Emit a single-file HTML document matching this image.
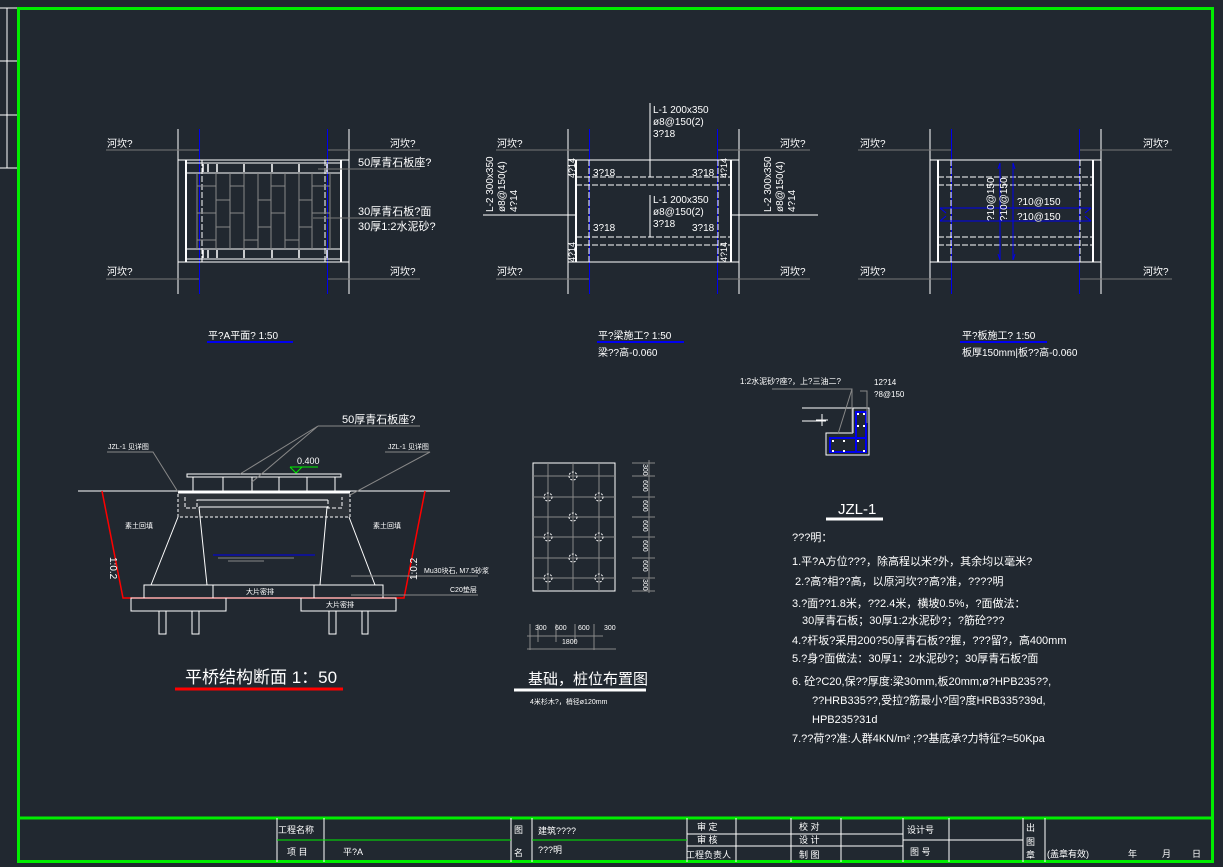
<!DOCTYPE html>
<html><head><meta charset="utf-8"><style>
html,body{margin:0;padding:0;background:#212830;}
svg{display:block}
text{font-family:"Liberation Sans","Noto Sans CJK SC",sans-serif;fill:#fff}
</style></head><body>
<svg width="1223" height="867" viewBox="0 0 1223 867" xmlns="http://www.w3.org/2000/svg">
<rect width="1223" height="867" fill="#212830"/>
<!-- left strip -->
<g stroke="#fff" stroke-width="1" fill="none">
<line x1="0" y1="8" x2="18" y2="8"/><line x1="0" y1="61" x2="18" y2="61"/><line x1="0" y1="115" x2="18" y2="115"/><line x1="0" y1="168" x2="18" y2="168"/>
<line x1="7" y1="8" x2="7" y2="168"/><line x1="19" y1="8" x2="19" y2="329"/>
</g>
<!-- frame -->
<rect x="18.5" y="8.5" width="1194" height="853" fill="none" stroke="#00ee00" stroke-width="3"/>
<line x1="18" y1="818" x2="1213" y2="818" stroke="#00ee00" stroke-width="3"/>

<!-- ===== PLAN 1 ===== -->
<g transform="translate(178,0)" stroke="#fff" fill="none">
<line x1="0" y1="129" x2="0" y2="294"/><line x1="171" y1="129" x2="171" y2="294"/>
<line x1="21.5" y1="129" x2="21.5" y2="294" stroke="#0000ee"/><line x1="149.5" y1="129" x2="149.5" y2="294" stroke="#0000ee"/>
<g stroke="#777"><line x1="-72" y1="150" x2="21" y2="150"/><line x1="150" y1="150" x2="242" y2="150"/><line x1="-72" y1="279" x2="21" y2="279"/><line x1="150" y1="279" x2="242" y2="279"/></g>
<line x1="0" y1="160" x2="171" y2="160"/><line x1="0" y1="262" x2="171" y2="262"/>
<line x1="8" y1="160" x2="8" y2="262" stroke-width="2"/><line x1="163" y1="160" x2="163" y2="262" stroke-width="2"/>
<line x1="8" y1="163" x2="163" y2="163"/><line x1="8" y1="173" x2="163" y2="173"/><line x1="8" y1="249" x2="163" y2="249"/><line x1="8" y1="259" x2="163" y2="259"/>
<g stroke-dasharray="6,2"><line x1="24" y1="160" x2="24" y2="262"/><line x1="147" y1="160" x2="147" y2="262"/></g>
<g stroke="#888">
<line x1="19" y1="173" x2="19" y2="249"/><line x1="38" y1="173" x2="38" y2="249"/><line x1="52" y1="173" x2="52" y2="249"/><line x1="66" y1="173" x2="66" y2="249"/><line x1="80" y1="173" x2="80" y2="249"/><line x1="93" y1="173" x2="93" y2="249"/><line x1="107" y1="173" x2="107" y2="249"/><line x1="121" y1="173" x2="121" y2="249"/><line x1="134" y1="173" x2="134" y2="249"/><line x1="152" y1="173" x2="152" y2="249"/>
<path d="M19 186H38M52 186H66M93 186H107M134 186H152M38 200H52M80 200H93M121 200H134M19 213H38M52 213H66M93 213H107M134 213H152M38 227H52M80 227H93M121 227H134M19 240H38M66 240H80M107 240H121"/>
</g>
<path d="M25 164v8M30 164v8M39 164v8M66 164v8M94 164v8M121 164v8M149 164v8M25 250v8M30 250v8M39 250v8M66 250v8M94 250v8M121 250v8M149 250v8" stroke-width="1.5"/>
</g>
<g font-size="10">
<text x="107" y="147">河坎?</text><text x="390" y="147">河坎?</text><text x="107" y="275">河坎?</text><text x="390" y="275">河坎?</text>
<text x="358" y="166" font-size="11">50厚青石板座?</text>
<text x="358" y="215" font-size="11">30厚青石板?面</text>
<text x="358" y="230" font-size="11">30厚1:2水泥砂?</text>
</g>
<g stroke="#777"><line x1="318" y1="169" x2="420" y2="169"/><line x1="313" y1="218" x2="420" y2="218"/></g>
<text x="208" y="339" font-size="10">平?A平面?  1:50</text>
<line x1="207" y1="342" x2="293" y2="342" stroke="#0000ee" stroke-width="2"/>

<!-- ===== PLAN 2 ===== -->
<g transform="translate(568,0)" stroke="#fff" fill="none">
<line x1="0" y1="129" x2="0" y2="294"/><line x1="171" y1="129" x2="171" y2="294"/>
<line x1="21.5" y1="129" x2="21.5" y2="294" stroke="#0000ee"/><line x1="149.5" y1="129" x2="149.5" y2="294" stroke="#0000ee"/>
<g stroke="#777"><line x1="-72" y1="150" x2="21" y2="150"/><line x1="150" y1="150" x2="242" y2="150"/><line x1="-72" y1="279" x2="21" y2="279"/><line x1="150" y1="279" x2="242" y2="279"/></g>
<line x1="0" y1="160" x2="171" y2="160"/><line x1="0" y1="262" x2="171" y2="262"/>
<line x1="8" y1="160" x2="8" y2="262" stroke-width="2"/><line x1="163" y1="160" x2="163" y2="262" stroke-width="2"/>
<line x1="-85" y1="215" x2="7" y2="215"/><line x1="164" y1="215" x2="250" y2="215"/>
<g stroke-dasharray="6,2"><line x1="8" y1="177" x2="163" y2="177"/><line x1="8" y1="185" x2="163" y2="185"/><line x1="8" y1="237" x2="163" y2="237"/><line x1="8" y1="245" x2="163" y2="245"/><line x1="21" y1="160" x2="21" y2="262"/><line x1="150" y1="160" x2="150" y2="262"/></g>
<line x1="82" y1="103" x2="82" y2="177"/><line x1="82" y1="195" x2="82" y2="237"/>
</g>
<g font-size="10">
<text x="497" y="147">河坎?</text><text x="780" y="147">河坎?</text><text x="497" y="275">河坎?</text><text x="780" y="275">河坎?</text>
<text x="653" y="113">L-1 200x350</text><text x="653" y="125">ø8@150(2)</text><text x="653" y="137">3?18</text>
<text x="653" y="203">L-1 200x350</text><text x="653" y="215">ø8@150(2)</text><text x="653" y="227">3?18</text>
<text x="593" y="176">3?18</text><text x="692" y="176">3?18</text><text x="593" y="231">3?18</text><text x="692" y="231">3?18</text>
<g font-size="9">
<text transform="translate(575,178) rotate(-90)">4?14</text><text transform="translate(727,178) rotate(-90)">4?14</text>
<text transform="translate(575,262) rotate(-90)">4?14</text><text transform="translate(727,262) rotate(-90)">4?14</text>
</g>
<text transform="translate(493,212) rotate(-90)">L-2 300x350</text><text transform="translate(505,212) rotate(-90)">ø8@150(4)</text><text transform="translate(517,212) rotate(-90)">4?14</text>
<text transform="translate(771,212) rotate(-90)">L-2 300x350</text><text transform="translate(783,212) rotate(-90)">ø8@150(4)</text><text transform="translate(795,212) rotate(-90)">4?14</text>
</g>
<text x="598" y="339" font-size="10">平?梁施工?  1:50</text>
<line x1="597" y1="342" x2="684" y2="342" stroke="#0000ee" stroke-width="2"/>
<text x="598" y="356" font-size="10">梁??高-0.060</text>

<!-- ===== PLAN 3 ===== -->
<g transform="translate(930,0)" stroke="#fff" fill="none">
<line x1="0" y1="129" x2="0" y2="294"/><line x1="171" y1="129" x2="171" y2="294"/>
<line x1="21.5" y1="129" x2="21.5" y2="294" stroke="#0000ee"/><line x1="149.5" y1="129" x2="149.5" y2="294" stroke="#0000ee"/>
<g stroke="#777"><line x1="-72" y1="150" x2="21" y2="150"/><line x1="150" y1="150" x2="242" y2="150"/><line x1="-72" y1="279" x2="21" y2="279"/><line x1="150" y1="279" x2="242" y2="279"/></g>
<line x1="0" y1="160" x2="171" y2="160"/><line x1="0" y1="262" x2="171" y2="262"/>
<line x1="8" y1="160" x2="8" y2="262" stroke-width="2"/><line x1="163" y1="160" x2="163" y2="262" stroke-width="2"/>
<g stroke-dasharray="6,2"><line x1="8" y1="177" x2="163" y2="177"/><line x1="8" y1="185" x2="163" y2="185"/><line x1="8" y1="237" x2="163" y2="237"/><line x1="8" y1="245" x2="163" y2="245"/><line x1="21" y1="160" x2="21" y2="262"/><line x1="150" y1="160" x2="150" y2="262"/></g>
<g stroke="#0000ee"><line x1="10" y1="208" x2="161" y2="208"/><line x1="10" y1="221" x2="161" y2="221"/><line x1="70" y1="163" x2="70" y2="260"/><line x1="83" y1="163" x2="83" y2="260"/>
<path d="M10 208l6 5M10 221l6-5M161 208l-6 5M161 221l-6-5M70 163l-2 6M83 163l2 6M70 260l-2-6M83 260l2-6"/></g>
</g>
<g font-size="10">
<text x="860" y="147">河坎?</text><text x="1143" y="147">河坎?</text><text x="860" y="275">河坎?</text><text x="1143" y="275">河坎?</text>
<text x="1017" y="205">?10@150</text><text x="1017" y="220">?10@150</text>
<text transform="translate(994,221) rotate(-90)">?10@150</text><text transform="translate(1007,221) rotate(-90)">?10@150</text>
</g>
<text x="962" y="339" font-size="10">平?板施工?  1:50</text>
<line x1="960" y1="342" x2="1047" y2="342" stroke="#0000ee" stroke-width="2"/>
<text x="962" y="356" font-size="10">板厚150mm|板??高-0.060</text>

<!-- ===== SECTION ===== -->
<g stroke="#fff" fill="none">
<line x1="78" y1="491" x2="450" y2="491"/>
<path d="M102 491L123 598H404L425 491" stroke="#ff0000" stroke-width="1.5"/>
<rect x="187" y="474" width="154" height="3"/>
<path d="M193 477v14M223 477v14M252 477v14M279 477v14M307 477v14M335 477v14"/>
<rect x="178" y="491" width="172" height="26" fill="#2d3238" stroke-dasharray="3,2"/>
<line x1="178" y1="492" x2="350" y2="492" stroke-width="3"/>
<path d="M185 497v11h12v-8h131v8h14v-11" stroke-dasharray="4,2"/>
<line x1="199" y1="500" x2="328" y2="500"/><line x1="199" y1="507" x2="328" y2="507"/>
<path d="M178 517L151 585M199 507L207 585M327 507L320 585M349 517L375 585"/>
<rect x="144" y="585" width="239" height="13"/><line x1="213" y1="585" x2="213" y2="598"/><line x1="314" y1="585" x2="314" y2="598"/>
<rect x="131" y="598" width="95" height="13"/><rect x="301" y="598" width="95" height="13"/>
<path d="M159 611v23h7v-23M192 611v23h7v-23M329 611v23h7v-23M362 611v23h6v-23"/>
<line x1="213" y1="555" x2="315" y2="555" stroke="#0000ee"/>
<g stroke="#888"><line x1="218" y1="558" x2="294" y2="558"/><line x1="228" y1="561" x2="264" y2="561"/>
<path d="M318 426H420M318 426L240 474M318 426L252 482M107 452H153L178 492M385 452H430L350 495M351 576H478M351 595H478"/></g>
<path d="M290 467H318M290 467l6 6 6-6" stroke="#00ee00"/>
</g>
<g font-size="7">
<text x="108" y="449">JZL-1 见详图</text><text x="388" y="449">JZL-1 见详图</text>
<text x="125" y="528">素土回填</text><text x="373" y="528">素土回填</text>
<text x="246" y="594">大片密排</text><text x="326" y="607">大片密排</text>
<text x="424" y="573">Mu30块石, M7.5砂浆</text><text x="450" y="592">C20垫层</text>
</g>
<text x="297" y="464" font-size="9">0.400</text>
<text x="342" y="423" font-size="11">50厚青石板座?</text>
<text transform="translate(110,557) rotate(90)" font-size="10">1:0.2</text>
<text transform="translate(417,580) rotate(-90)" font-size="10">1:0.2</text>
<text x="185" y="683" font-size="17">平桥结构断面 1：50</text>
<line x1="175" y1="689" x2="343" y2="689" stroke="#ff0000" stroke-width="3"/>

<!-- ===== PILES ===== -->
<g stroke="#fff" fill="none">
<rect x="533" y="463" width="82" height="128"/>
<g stroke="#888"><path d="M533 476H615M533 497H615M533 517H615M533 537H615M533 558H615M533 578H615M548 463V591M573 463V591M599 463V591"/>
<path d="M632 463H655M632 476H655M632 497H655M632 517H655M632 537H655M632 558H655M632 578H655M632 591H655M649 460V593"/>
<path d="M530 624V650M538 624V642M556 624V642M575 624V642M594 624V650M527 636H603M527 649H616"/></g>
<g stroke-dasharray="2,1.5"><circle cx="573" cy="476" r="4"/><circle cx="548" cy="497" r="4"/><circle cx="599" cy="497" r="4"/><circle cx="573" cy="517" r="4"/><circle cx="548" cy="537" r="4"/><circle cx="599" cy="537" r="4"/><circle cx="573" cy="558" r="4"/><circle cx="548" cy="578" r="4"/><circle cx="599" cy="578" r="4"/></g>
</g>
<g font-size="7">
<text transform="translate(643,464) rotate(90)">300</text><text transform="translate(643,480) rotate(90)">600</text><text transform="translate(643,500) rotate(90)">600</text><text transform="translate(643,520) rotate(90)">600</text><text transform="translate(643,540) rotate(90)">600</text><text transform="translate(643,560) rotate(90)">600</text><text transform="translate(643,579) rotate(90)">300</text>
<text x="535" y="630">300</text><text x="555" y="630">600</text><text x="578" y="630">600</text><text x="604" y="630">300</text><text x="562" y="644">1800</text>
</g>
<text x="528" y="684" font-size="15">基础，桩位布置图</text>
<line x1="514" y1="690" x2="646" y2="690" stroke="#fff" stroke-width="3"/>
<text x="530" y="704" font-size="7">4米杉木?，梢径ø120mm</text>

<!-- ===== JZL-1 ===== -->
<g stroke="#fff" fill="none">
<path d="M802 408H869V455H826V433H853M802 421H826M853 433V408"/>
<path d="M816 420h12M822 414v12"/>
<rect x="856" y="412" width="10" height="40" stroke="#0000ee" stroke-width="2"/>
<rect x="830" y="438" width="36" height="14" stroke="#0000ee" stroke-width="2"/>
<g stroke="#888"><path d="M772 389H852V433M852 389L838 434M860 391H867V423"/></g>
</g>
<g fill="#fff"><rect x="857" y="413" width="2" height="2"/><rect x="863" y="413" width="2" height="2"/><rect x="857" y="425" width="2" height="2"/><rect x="863" y="425" width="2" height="2"/><rect x="832" y="440" width="2" height="2"/><rect x="843" y="440" width="2" height="2"/><rect x="832" y="450" width="2" height="2"/><rect x="843" y="450" width="2" height="2"/><rect x="863" y="450" width="2" height="2"/><rect x="857" y="440" width="2" height="2"/></g>
<text x="740" y="384" font-size="8">1:2水泥砂?座?，上?三油二?</text>
<text x="874" y="385" font-size="8">12?14</text><text x="874" y="397" font-size="8">?8@150</text>
<text x="838" y="514" font-size="15">JZL-1</text>
<line x1="826" y1="519" x2="883" y2="519" stroke="#fff" stroke-width="3"/>

<!-- ===== NOTES ===== -->
<g font-size="11">
<text x="792" y="541">???明：</text>
<text x="792" y="565">1.平?A方位???，除高程以米?外，其余均以毫米?</text>
<text x="795" y="585">2.?高?相??高，以原河坎??高?准，????明</text>
<text x="792" y="607">3.?面??1.8米，??2.4米，横坡0.5%，?面做法：</text>
<text x="802" y="624">30厚青石板；30厚1:2水泥砂?；?筋砼???</text>
<text x="792" y="644">4.?杆坂?采用200?50厚青石板??握，???留?，高400mm</text>
<text x="792" y="662">5.?身?面做法：30厚1：2水泥砂?；30厚青石板?面</text>
<text x="792" y="685">6. 砼?C20,保??厚度:梁30mm,板20mm;ø?HPB235??,</text>
<text x="812" y="704">??HRB335??,受拉?筋最小?固?度HRB335?39d,</text>
<text x="812" y="723">HPB235?31d</text>
<text x="792" y="742">7.??荷??准:人群4KN/m² ;??基底承?力特征?=50Kpa</text>
</g>

<!-- ===== TITLE BLOCK ===== -->
<g stroke="#fff" fill="none">
<path d="M277 818V862M324 818V862M511 818V862M532 818V862M687 818V862M736 818V862M791 818V862M841 818V862M903 818V862M949 818V862M1023 818V862M1045 818V862"/>
<path d="M687 834H903M687 846H903M903 840H1023"/>
<path d="M277 840H511M532 840H687" stroke="#00ee00"/>
</g>
<g font-size="9">
<text x="278" y="833">工程名称</text><text x="287" y="855">项  目</text><text x="343" y="855">平?A</text>
<text x="514" y="833">图</text><text x="514" y="856">名</text>
<text x="538" y="834">建筑????</text><text x="538" y="853">???明</text>
<text x="697" y="830">审  定</text><text x="697" y="843">审  核</text><text x="686" y="858">工程负责人</text>
<text x="799" y="830">校  对</text><text x="799" y="843">设  计</text><text x="799" y="858">制  图</text>
<text x="907" y="833">设计号</text><text x="910" y="855">图  号</text>
<text x="1026" y="831">出</text><text x="1026" y="845">图</text><text x="1026" y="858">章</text>
<text x="1047" y="857">(盖章有效)</text><text x="1128" y="857">年</text><text x="1162" y="857">月</text><text x="1192" y="857">日</text>
</g>
</svg>
</body></html>
